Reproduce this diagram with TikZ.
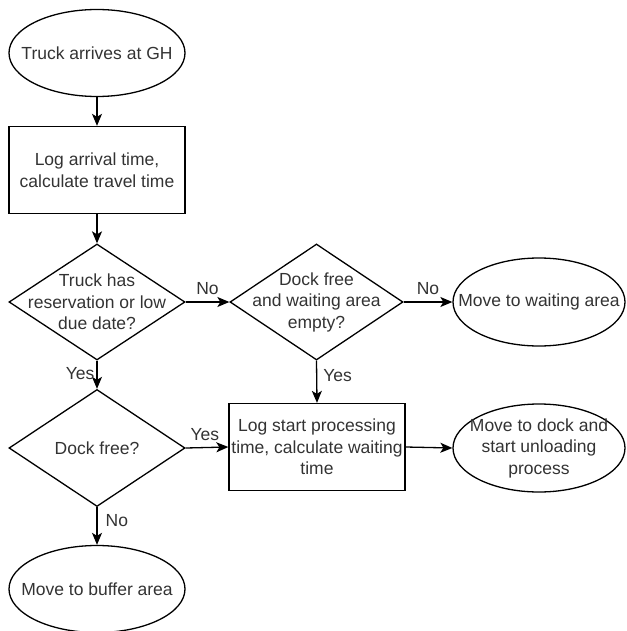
\documentclass[tikz,border=0pt]{standalone}
\usepackage{fontspec}
\setmainfont{Liberation Sans}
\usetikzlibrary{shapes.geometric,arrows.meta}
\definecolor{ink}{HTML}{333333}
\tikzset{
  base/.style={draw=black, line width=1.3pt, inner sep=0pt, text=ink},
  terminal/.style={base, ellipse, minimum width=176pt, minimum height=87pt},
  process/.style={base, rectangle, minimum width=176pt, minimum height=87pt},
  decision/.style={base, diamond, minimum width=176pt, minimum height=116pt},
  txt/.style={text=ink, align=center, font=\fontsize{17.5}{21.5}\selectfont},
  flow/.style={draw=black, line width=1.3pt, -{Stealth[length=12pt,width=10pt,inset=3pt]}},
  lbl/.style={txt, inner sep=0pt}
}
\begin{document}
\begin{tikzpicture}[x=1pt, y=-1pt]
  \useasboundingbox (0,0) rectangle (626,631);
  \clip (0,0) rectangle (626,631);

  % nodes
  \node[terminal, label={[txt]center:Truck arrives at GH}] (start) at (97,53) {};
  \node[process, label={[txt]center:Log arrival time,\\calculate travel time}] (logarr) at (97,170) {};
  \node[decision, label={[txt]center:Truck has\\reservation or low\\due date?}] (resv) at (97,302) {};
  \node[decision, minimum width=173pt, label={[txt]center:Dock free\\and waiting area\\empty?}] (free) at (316.5,302) {};
  \node[terminal, minimum width=172pt, minimum height=88pt, label={[txt]center:Move to waiting area}] (wait) at (539,302) {};
  \node[decision, minimum height=117pt, label={[txt]center:Dock free?}] (dock) at (97,448) {};
  \node[process, label={[txt]center:Log start processing\\time, calculate waiting\\time}] (logstart) at (317,447) {};
  \node[terminal, minimum width=172pt, minimum height=88pt, label={[txt]center:Move to dock and\\start unloading\\process}] (unload) at (539,448) {};
  \node[terminal, label={[txt]center:Move to buffer area}] (buffer) at (97,589) {};

  % connectors
  \draw[flow] (start) -- (logarr);
  \draw[flow] (logarr) -- (resv);
  \draw[flow] (resv.east) -- node[lbl, above=7pt] {No} (free.west);
  \draw[flow] (free.east) -- node[lbl, above=7pt] {No} (wait.west);
  \draw[flow] (resv.south) -- node[lbl, left=2pt, pos=0.45] {Yes} (dock.north);
  \draw[flow] (free.south) -- node[lbl, right=6pt, pos=0.35] {Yes} (logstart.north);
  \draw[flow] (dock.east) -- node[lbl, above=6pt, pos=0.45] {Yes} (logstart.west);
  \draw[flow] (logstart.east) -- (unload.west);
  \draw[flow] (dock.south) -- node[lbl, right=8pt, pos=0.35] {No} (buffer.north);
\end{tikzpicture}
\end{document}
